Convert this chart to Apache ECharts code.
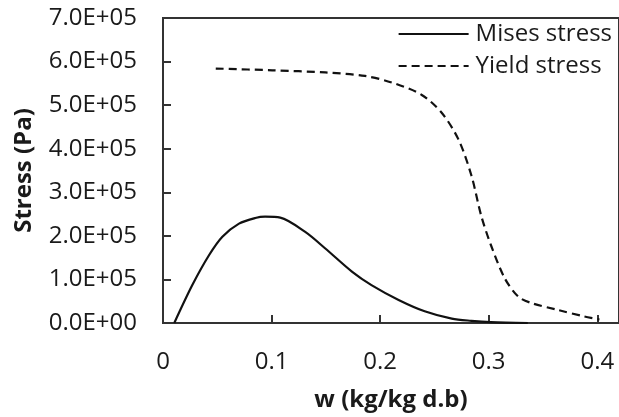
<!DOCTYPE html>
<html>
<head>
<meta charset="utf-8">
<script src="https://cdn.jsdelivr.net/npm/echarts@6/dist/echarts.min.js"></script>
<style>html,body{margin:0;padding:0;background:#fff;}#c{width:619px;height:417px;}</style>
</head>
<body>
<div id="c"></div>
<script>
var misesX = [0.0104, 0.027, 0.0425, 0.0547, 0.070, 0.085, 0.094, 0.108, 0.131, 0.1495, 0.174, 0.192, 0.217, 0.241, 0.266, 0.284, 0.302, 0.336];
var misesY = [0, 0.87e5, 1.56e5, 1.98e5, 2.28e5, 2.41e5, 2.44e5, 2.42e5, 2.09e5, 1.71e5, 1.18e5, 0.87e5, 0.53e5, 0.27e5, 0.10e5, 0.05e5, 0.02e5, 0];
var yieldX = [0.0486, 0.1006, 0.1495, 0.186, 0.2106, 0.238, 0.2565, 0.272, 0.284, 0.293, 0.302, 0.3147, 0.327, 0.339, 0.3636, 0.388, 0.402];
var yieldY = [5.84e5, 5.80e5, 5.75e5, 5.67e5, 5.52e5, 5.24e5, 4.83e5, 4.22e5, 3.39e5, 2.47e5, 1.79e5, 1.03e5, 0.61e5, 0.46e5, 0.30e5, 0.15e5, 0.08e5];
var seriesNames = ['Mises stress', 'Yield stress'];
var xTitle = 'w (kg/kg d.b)';
var yTitle = 'Stress (Pa)';

function zip(a, b) { return a.map(function (v, i) { return [v, b[i]]; }); }
function sci(v) {
  if (v === 0) return '0.0E+00';
  var e = Math.floor(Math.log10(Math.abs(v)) + 1e-9);
  var m = v / Math.pow(10, e);
  var es = (e < 0 ? '-' : '+') + (Math.abs(e) < 10 ? '0' : '') + Math.abs(e);
  return m.toFixed(1) + 'E' + es;
}
var FONT = 'Open Sans';
var TXT = '#1a1a1a';
var chart = echarts.init(document.getElementById('c'));
chart.setOption({
  animation: false,
  backgroundColor: '#fff',
  grid: { left: 163, top: 18, bottom: 92, right: -2, show: true, borderColor: '#333', borderWidth: 2, backgroundColor: 'transparent' },
  legend: {
    right: 2, top: 17, orient: 'vertical', align: 'left', itemWidth: 70, itemHeight: 14, itemGap: 8,
    itemStyle: { opacity: 0 },
    lineStyle: { width: 2.2 },
    textStyle: { fontFamily: FONT, fontSize: 24, color: TXT, padding: [0, 0, 0, 2] },
    data: seriesNames
  },
  xAxis: {
    type: 'value', min: 0, max: 0.42, interval: 0.1,
    name: xTitle, nameLocation: 'middle', nameGap: 65,
    nameTextStyle: { fontFamily: FONT, fontSize: 24, fontWeight: 'bold', color: TXT },
    axisLine: { show: true, onZero: false, lineStyle: { color: '#333', width: 2 } },
    axisTick: { show: true, inside: true, length: 8, lineStyle: { color: '#333', width: 2 } },
    axisLabel: { fontFamily: FONT, fontSize: 24, color: TXT, margin: 27, showMaxLabel: false,
      formatter: function (v) { return Math.abs(v * 10 - Math.round(v * 10)) < 1e-6 ? (v === 0 ? '0' : v.toFixed(1)) : ''; } },
    splitLine: { show: false }
  },
  yAxis: {
    type: 'value', min: 0, max: 7e5, interval: 1e5,
    name: yTitle, nameLocation: 'middle', nameGap: 127,
    nameTextStyle: { fontFamily: FONT, fontSize: 24, fontWeight: 'bold', color: TXT },
    axisLine: { show: true, lineStyle: { color: '#333', width: 2 } },
    axisTick: { show: true, inside: true, length: 8, lineStyle: { color: '#333', width: 2 } },
    axisLabel: { fontFamily: FONT, fontSize: 24, color: TXT, margin: 26, formatter: sci },
    splitLine: { show: false }
  },
  series: [
    { name: seriesNames[0], type: 'line', data: zip(misesX, misesY), smooth: 0.3, symbol: 'none',
      lineStyle: { color: '#111', width: 2.2 }, itemStyle: { color: '#111' } },
    { name: seriesNames[1], type: 'line', data: zip(yieldX, yieldY), smooth: 0.3, symbol: 'none',
      lineStyle: { color: '#111', width: 2.2, type: [8, 5] }, itemStyle: { color: '#111' } }
  ]
});
</script>
</body>
</html>
